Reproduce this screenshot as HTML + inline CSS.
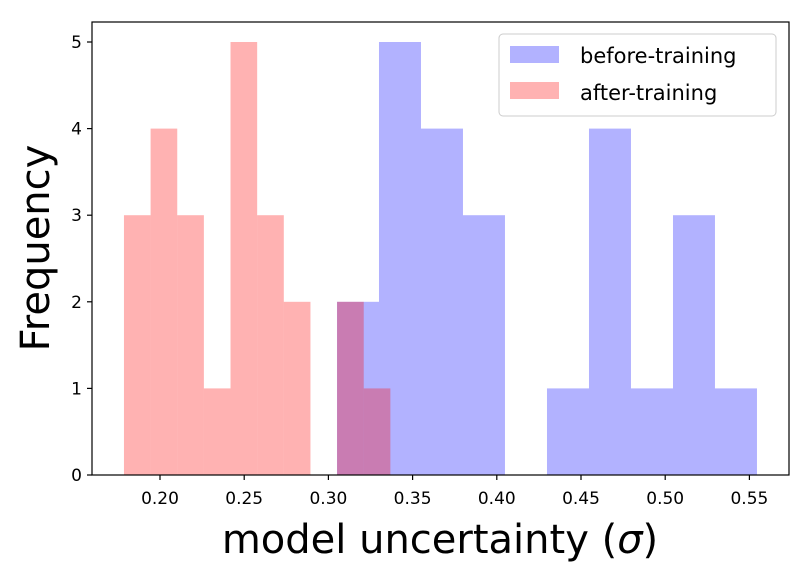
<!DOCTYPE html>
<html><head><meta charset="utf-8"><style>
body{margin:0;background:#fff}
svg text{font-family:"DejaVu Sans","Liberation Sans",sans-serif;fill:#000}
</style></head><body>
<svg width="811" height="577" viewBox="0 0 811 577">
<g id="bars"></g>
<g id="axes"></g>
<g>
<rect x="499" y="34" width="277" height="82" rx="4" fill="#fff" fill-opacity="0.8" stroke="#ccc"/>
<rect x="510" y="46" width="49" height="17" fill="#0000ff" fill-opacity="0.3"/>
<text x="580" y="63" font-size="21">before-training</text>
<rect x="510" y="82" width="49" height="17" fill="#ff0000" fill-opacity="0.3"/>
<text x="580" y="100" font-size="21">after-training</text>
</g>
<text x="440" y="553" font-size="40" text-anchor="middle">model uncertainty (<tspan font-style="italic">σ</tspan>)</text>
<text transform="translate(49,248) rotate(-90)" font-size="40" text-anchor="middle">Frequency</text>
</svg>
<script>
const beforeMin = 0.3051;
const beforeWidth = 0.02494;
const beforeCounts = [2,5,4,3,0,1,4,1,3,1];
const afterMin = 0.1786;
const afterWidth = 0.01582;
const afterCounts = [3,4,3,1,5,3,2,0,2,1];
const xTicks = [0.20,0.25,0.30,0.35,0.40,0.45,0.50,0.55];
const xTickLabels = ["0.20","0.25","0.30","0.35","0.40","0.45","0.50","0.55"];
const yTicks = [0,1,2,3,4,5];

const L=92,R=789,T=22,B=475;
const xs=v=>160+(v-0.2)*1684;
const ys=v=>B-v*86.6;
const NS="http://www.w3.org/2000/svg";
const bars=document.getElementById('bars');
const axes=document.getElementById('axes');
function mk(tag,attrs,parent){const e=document.createElementNS(NS,tag);for(const k in attrs)e.setAttribute(k,attrs[k]);parent.appendChild(e);return e;}
function drawSeries(min,w,counts,color,name){
  counts.forEach((c,i)=>{
    if(c<=0)return;
    const x0=xs(min+i*w),x1=xs(min+(i+1)*w);
    const r=mk('rect',{x:x0,y:ys(c),width:x1-x0,height:B-ys(c),fill:color,'fill-opacity':0.3},bars);
    
    
  });
}
drawSeries(beforeMin,beforeWidth,beforeCounts,'#0000ff','before');
drawSeries(afterMin,afterWidth,afterCounts,'#ff0000','after');
const frame=mk('rect',{x:L,y:T,width:R-L,height:B-T,fill:'none',stroke:'#000','stroke-width':1.2},axes);


xTicks.forEach((v,i)=>{
  const x=xs(v);
  mk('line',{x1:x,x2:x,y1:B,y2:B+5,stroke:'#000','stroke-width':1.2},axes);
  const t=mk('text',{x:x,y:B+29,'font-size':17,'text-anchor':'middle'},axes);
  t.textContent=xTickLabels[i];
  
  
});
yTicks.forEach(v=>{
  const y=ys(v);
  mk('line',{x1:L-5,x2:L,y1:y,y2:y,stroke:'#000','stroke-width':1.2},axes);
  const t=mk('text',{x:L-10,y:y+6,'font-size':17,'text-anchor':'end'},axes);
  t.textContent=String(v);
  
  
});
</script>
</body></html>
